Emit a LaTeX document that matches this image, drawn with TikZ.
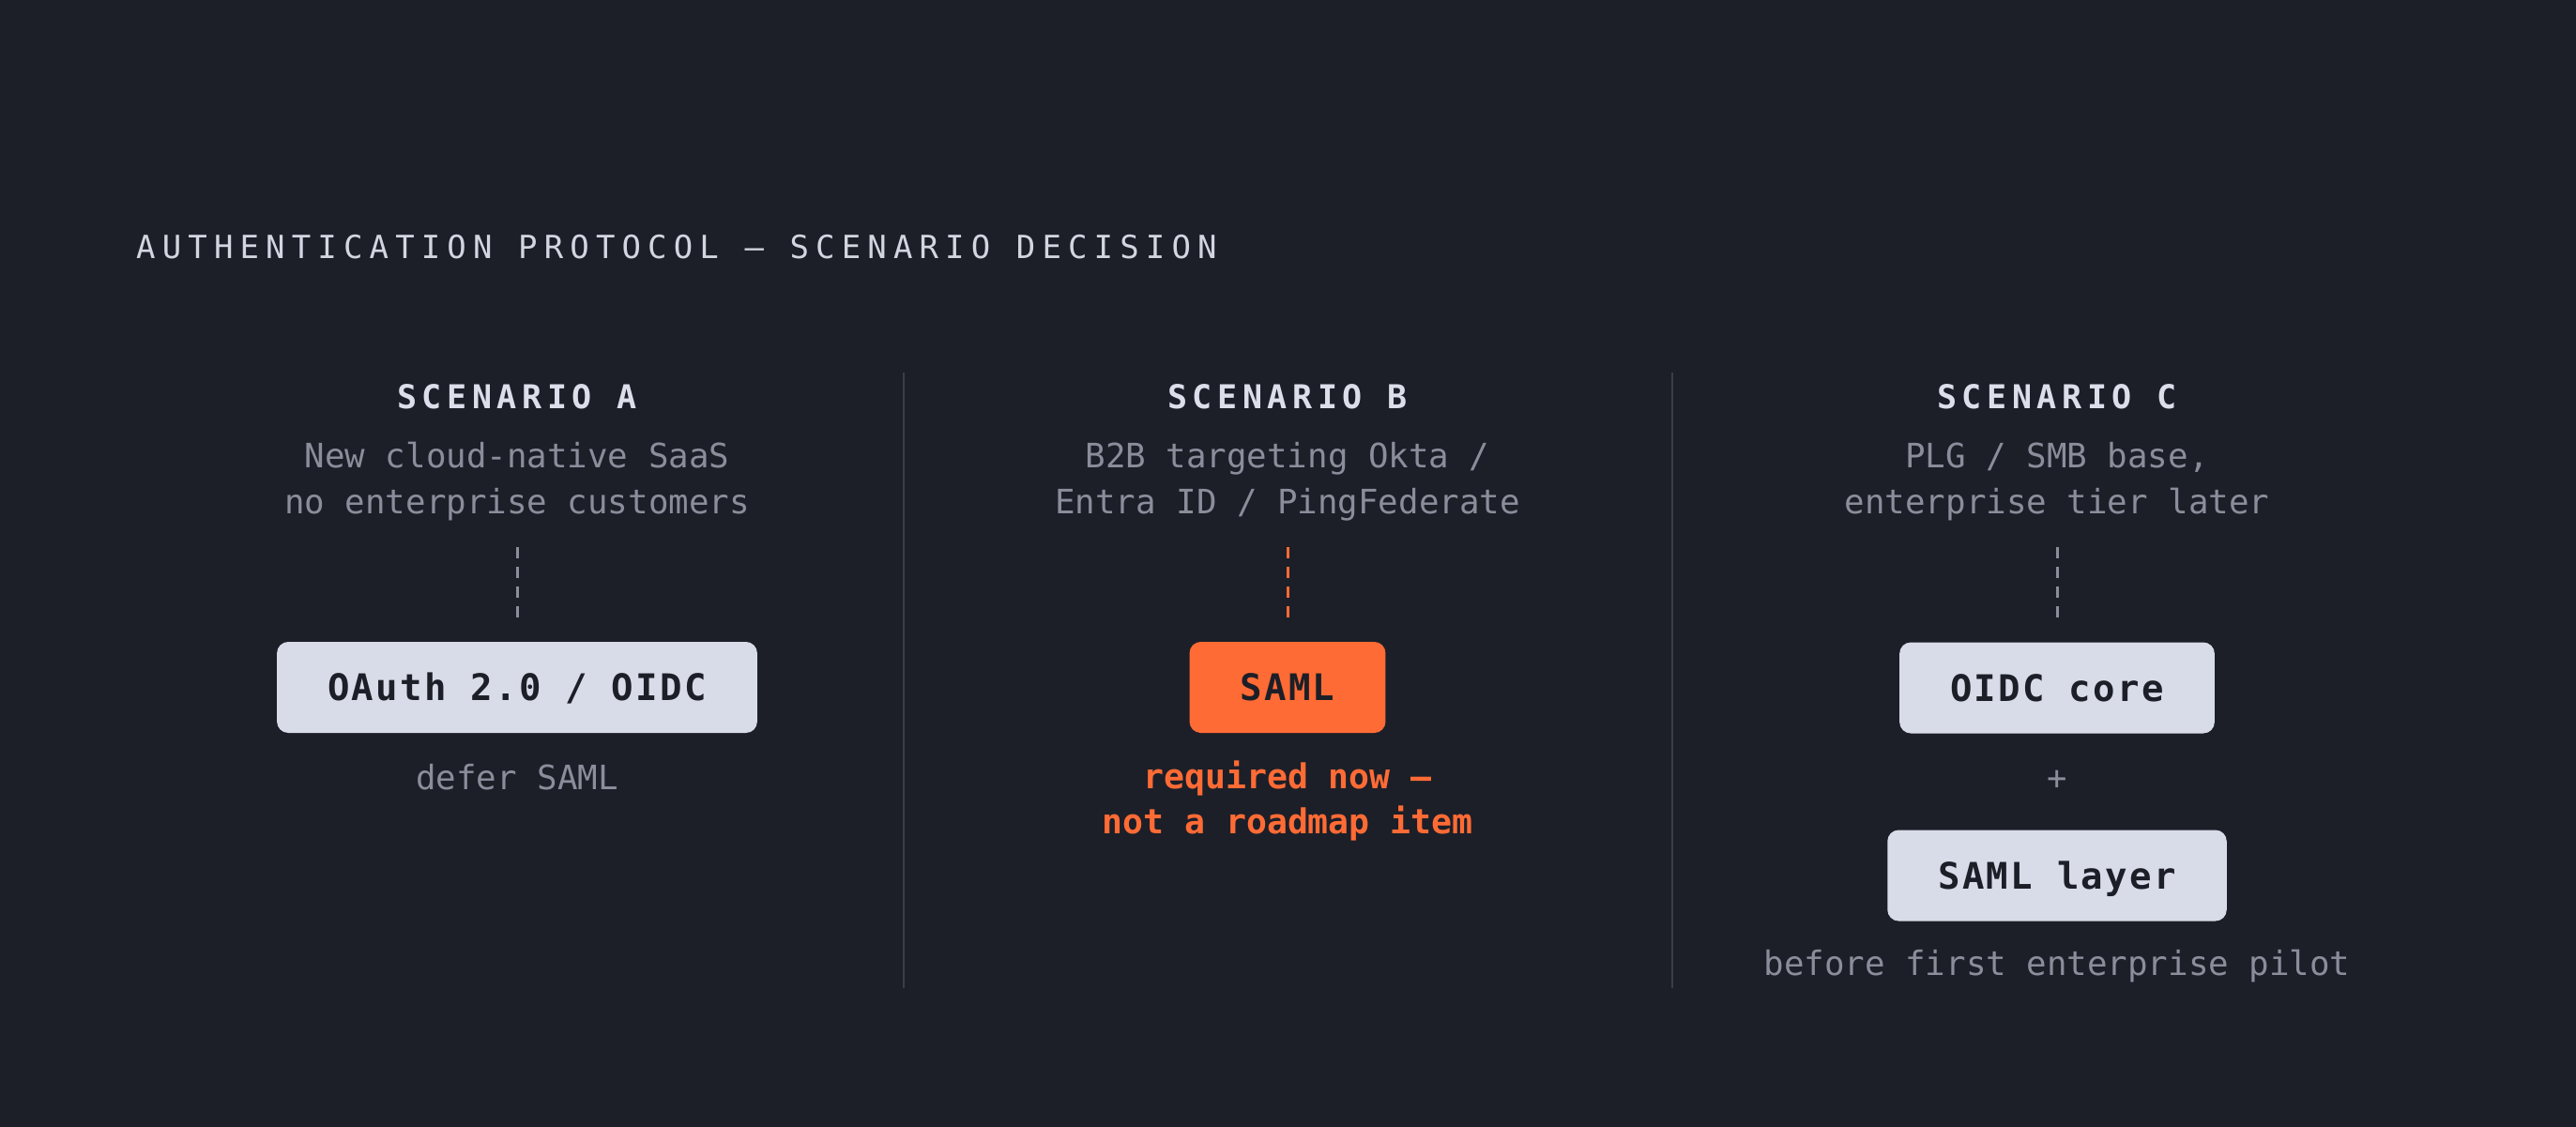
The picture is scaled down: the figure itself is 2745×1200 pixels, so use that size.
\documentclass[tikz,border=0pt]{standalone}
\usepackage{fontspec}
\setmainfont{DejaVu Sans Mono}
\newfontfamily\titlefont[LetterSpace=21]{DejaVu Sans Mono}
\newfontfamily\headfont[LetterSpace=16]{DejaVu Sans Mono}
\newfontfamily\boxfont[LetterSpace=6]{DejaVu Sans Mono}
\definecolor{bg}{HTML}{1C1F28}
\definecolor{titlecol}{HTML}{D3D6E1}
\definecolor{headcol}{HTML}{DCDFEA}
\definecolor{subcol}{HTML}{8A8E9B}
\definecolor{boxcol}{HTML}{D8DCE8}
\definecolor{accent}{HTML}{FF6B35}
\definecolor{divcol}{HTML}{3A3E4A}

\begin{document}
\begin{tikzpicture}[x=1pt,y=-1pt, every node/.style={inner sep=0pt},
  toptitle/.style={anchor=base west,text=titlecol,font=\titlefont\fontsize{34}{40}\selectfont},
  colhead/.style={anchor=base,text=headcol,font=\headfont\bfseries\fontsize{35}{42}\selectfont},
  colsub/.style={anchor=base,text=subcol,text height=26pt,text depth=8pt,font=\fontsize{35.8}{49}\selectfont},
  colnote/.style={anchor=base,text=accent,font=\bfseries\fontsize{36.5}{48}\selectfont},
  optbox/.style={fill=boxcol,text=bg,rounded corners=12pt,minimum height=97pt,inner xsep=54pt,text height=28.4pt,text depth=0pt,font=\boxfont\bfseries\fontsize{39}{45}\selectfont},
  optpick/.style={optbox,fill=accent},
  dashlink/.style={draw=subcol,line width=3pt,dash pattern=on 12pt off 9pt,shorten <=28pt,shorten >=26pt},
  coldiv/.style={draw=divcol,line width=2pt}]

\useasboundingbox (0,0) rectangle (2745,1200);
\fill[bg] (-5,-5) rectangle (2750,1205);

\node[toptitle] (title) at (145,275) {AUTHENTICATION PROTOCOL — SCENARIO DECISION};

\node[colhead] (headA) at (551,435) {SCENARIO A};
\node[colsub] (subA1) at (551,498) {New cloud-native SaaS};
\node[colsub] (subA2) at (551,547) {no enterprise customers};
\node[optbox] (boxA) at (551,732.5) {OAuth 2.0 / OIDC};
\node[colsub] (noteA) at (551,841.5) {defer SAML};

\node[colhead] (headB) at (1372,435) {SCENARIO B};
\node[colsub] (subB1) at (1372,498) {B2B targeting Okta /};
\node[colsub] (subB2) at (1372,547) {Entra ID / PingFederate};
\node[optpick] (boxB) at (1372,732.5) {SAML};
\node[colnote] (noteB1) at (1372,840.5) {required now —};
\node[colnote] (noteB2) at (1372,888.5) {not a roadmap item};

\node[colhead] (headC) at (2192,435) {SCENARIO C};
\node[colsub] (subC1) at (2192,498) {PLG / SMB base,};
\node[colsub] (subC2) at (2192,547) {enterprise tier later};
\node[optbox] (boxC1) at (2192,733) {OIDC core};
\node[text=subcol,font=\fontsize{35.5}{49}\selectfont] (plusC) at (2192,831) {+};
\node[optbox] (boxC2) at (2192,933) {SAML layer};
\node[colsub] (noteC) at (2192,1039) {before first enterprise pilot};

\draw[dashlink] (subA2) -- (boxA);
\draw[dashlink,draw=accent] (subB2) -- (boxB);
\draw[dashlink] (subC2) -- (boxC1);

\draw[coldiv] (963,397) -- (963,1053);
\draw[coldiv] (1782,397) -- (1782,1053);

\end{tikzpicture}
\end{document}
